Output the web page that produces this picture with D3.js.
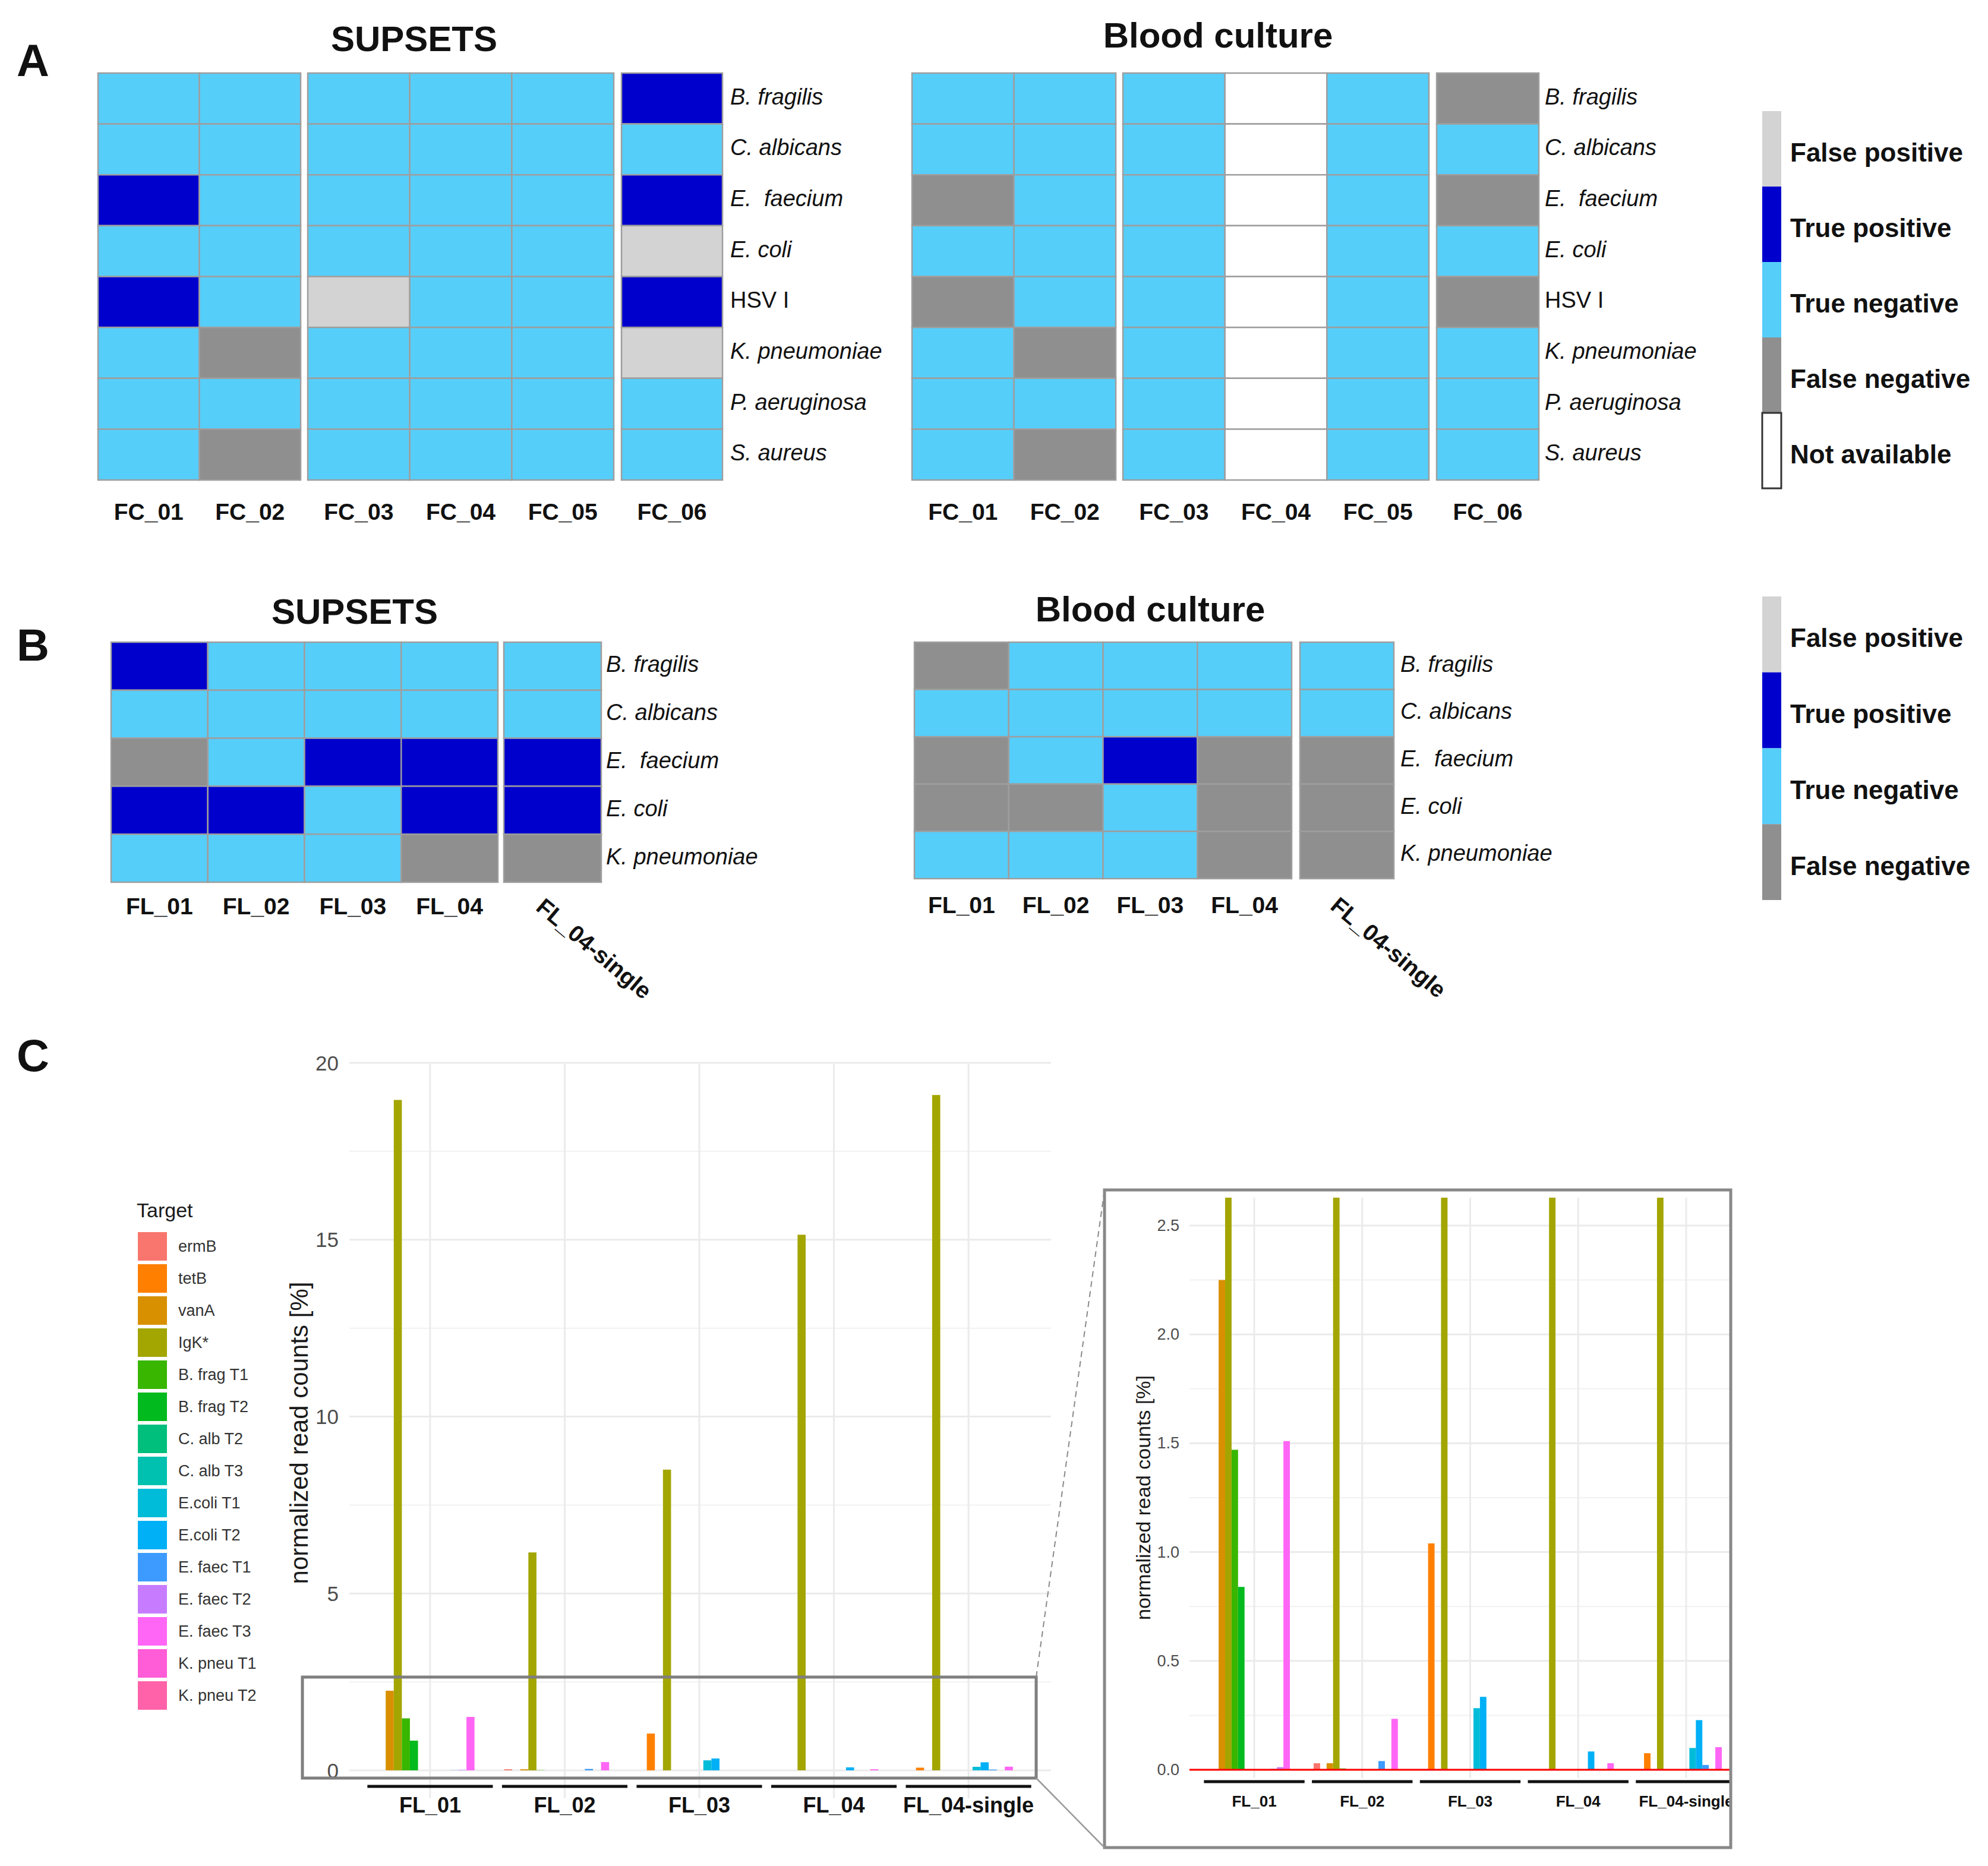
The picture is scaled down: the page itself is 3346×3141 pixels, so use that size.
<!DOCTYPE html>
<html>
<head>
<meta charset="utf-8">
<script src="https://cdn.jsdelivr.net/npm/d3@7"></script>
<style>
  html, body { margin: 0; padding: 0; background: #ffffff; }
  svg text { font-family: "Liberation Sans", Arial, sans-serif; }
</style>
</head>
<body>
<svg id="chart" width="3346" height="3141"></svg>
<script>
// ---------------- DATA ----------------
const statusNames = ["False positive", "True positive", "True negative", "False negative", "Not available"];
const statusColors = ["#D3D3D3", "#0000CD", "#56CEFA", "#8F8F8F", "#FFFFFF"];

const organismsA = ["B. fragilis", "C. albicans", "E.  faecium", "E. coli", "HSV I", "K. pneumoniae", "P. aeruginosa", "S. aureus"];
const samplesA = ["FC_01", "FC_02", "FC_03", "FC_04", "FC_05", "FC_06"];
const groupsA = [["FC_01", "FC_02"], ["FC_03", "FC_04", "FC_05"], ["FC_06"]];
// status codes: FP, TP, TN, FN, NA  (per sample, rows in organism order)
const supsetsA = {
  FC_01: ["TN","TN","TP","TN","TP","TN","TN","TN"],
  FC_02: ["TN","TN","TN","TN","TN","FN","TN","FN"],
  FC_03: ["TN","TN","TN","TN","FP","TN","TN","TN"],
  FC_04: ["TN","TN","TN","TN","TN","TN","TN","TN"],
  FC_05: ["TN","TN","TN","TN","TN","TN","TN","TN"],
  FC_06: ["TP","TN","TP","FP","TP","FP","TN","TN"]
};
const bloodA = {
  FC_01: ["TN","TN","FN","TN","FN","TN","TN","TN"],
  FC_02: ["TN","TN","TN","TN","TN","FN","TN","FN"],
  FC_03: ["TN","TN","TN","TN","TN","TN","TN","TN"],
  FC_04: ["NA","NA","NA","NA","NA","NA","NA","NA"],
  FC_05: ["TN","TN","TN","TN","TN","TN","TN","TN"],
  FC_06: ["FN","TN","FN","TN","FN","TN","TN","TN"]
};

const organismsB = ["B. fragilis", "C. albicans", "E.  faecium", "E. coli", "K. pneumoniae"];
const samplesB = ["FL_01", "FL_02", "FL_03", "FL_04", "FL_04-single"];
const groupsB = [["FL_01", "FL_02", "FL_03", "FL_04"], ["FL_04-single"]];
const supsetsB = {
  "FL_01": ["TP","TN","FN","TP","TN"],
  "FL_02": ["TN","TN","TN","TP","TN"],
  "FL_03": ["TN","TN","TP","TN","TN"],
  "FL_04": ["TN","TN","TP","TP","FN"],
  "FL_04-single": ["TN","TN","TP","TP","FN"]
};
const bloodB = {
  "FL_01": ["FN","TN","FN","FN","TN"],
  "FL_02": ["TN","TN","TN","FN","TN"],
  "FL_03": ["TN","TN","TP","TN","TN"],
  "FL_04": ["TN","TN","FN","FN","FN"],
  "FL_04-single": ["TN","TN","FN","FN","FN"]
};

const targets = ["ermB", "tetB", "vanA", "IgK*", "B. frag T1", "B. frag T2", "C. alb T2", "C. alb T3",
  "E.coli T1", "E.coli T2", "E. faec T1", "E. faec T2", "E. faec T3", "K. pneu T1", "K. pneu T2"];
const targetColors = ["#F8766D", "#FF8000", "#D89000", "#A3A500", "#39B600", "#00BA1E", "#00BF7D", "#00C0AF",
  "#00BCD8", "#00B0F6", "#3D9BFF", "#C77CFF", "#FF66F5", "#FF5CD7", "#FF62A8"];
const readSamples = ["FL_01", "FL_02", "FL_03", "FL_04", "FL_04-single"];
const readsFL01 = [0, 0, 2.25, 18.95, 1.47, 0.84, 0, 0, 0, 0, 0.004, 0.012, 1.51, 0, 0];
const readsFL02 = [0.03, 0, 0.03, 6.16, 0.006, 0, 0, 0, 0, 0, 0.04, 0, 0.234, 0, 0];
const readsFL03 = [0, 1.04, 0, 8.50, 0, 0, 0, 0, 0.283, 0.335, 0, 0, 0, 0, 0];
const readsFL04 = [0, 0, 0, 15.14, 0, 0, 0, 0, 0, 0.084, 0, 0, 0.03, 0, 0];
const readsFL04single = [0, 0.076, 0, 19.09, 0, 0, 0, 0, 0.10, 0.228, 0.022, 0, 0.104, 0, 0];
const mainTicks = [0, 5, 10, 15, 20];
const insetTicks = [0, 0.5, 1.0, 1.5, 2.0, 2.5];

// ---------------- HELPERS ----------------
const svg = d3.select("#chart");
svg.append("rect").attr("width", 3346).attr("height", 3141).attr("fill", "#fff");

const statusCode = ["FP", "TP", "TN", "FN", "NA"];
const colorScale = d3.scaleOrdinal().domain(statusCode).range(statusColors);

function heatmap(g, opts) {
  const { organisms, groups, data, groupRanges, yRange, labelX, colLabelY, rotated } = opts;
  const y = d3.scaleBand().domain(organisms).range(yRange);
  groups.forEach((grp, gi) => {
    const x = d3.scaleBand().domain(grp).range(groupRanges[gi]);
    grp.forEach(s => {
      const col = g.append("g");
      col.selectAll("rect").data(organisms.map((o, i) => ({ o, v: data[s][i] })))
        .enter().append("rect")
        .attr("x", d => x(s)).attr("y", d => y(d.o))
        .attr("width", x.bandwidth()).attr("height", y.bandwidth())
        .attr("fill", d => colorScale(d.v))
        .attr("stroke", "#9E9E9E").attr("stroke-width", 2.5);
      const cx = x(s) + x.bandwidth() / 2;
      if (rotated && s === rotated) {
        g.append("text").attr("transform", `translate(${cx - 12},${colLabelY - 30}) rotate(40)`)
          .attr("dominant-baseline", "hanging")
          .attr("font-size", 39).attr("font-weight", "bold").attr("fill", "#111").text(s);
      } else {
        g.append("text").attr("x", cx).attr("y", colLabelY).attr("text-anchor", "middle")
          .attr("font-size", 39).attr("font-weight", "bold").attr("fill", "#111").text(s);
      }
    });
  });
  organisms.forEach(o => {
    g.append("text").attr("x", labelX).attr("y", y(o) + y.bandwidth() / 2 - 3)
      .attr("dominant-baseline", "central")
      .attr("font-size", 38).attr("font-style", o === "HSV I" ? "normal" : "italic")
      .attr("fill", "#111").style("white-space", "pre").text(o);
  });
}

function statusLegend(g, n, x, top, bottom) {
  const y = d3.scaleBand().domain(statusNames.slice(0, n)).range([top, bottom]);
  statusNames.slice(0, n).forEach((name, i) => {
    g.append("rect").attr("x", x).attr("y", y(name)).attr("width", 32).attr("height", y.bandwidth())
      .attr("fill", statusColors[i])
      .attr("stroke", name === "Not available" ? "#333" : "none").attr("stroke-width", 3);
    g.append("text").attr("x", x + 47).attr("y", y(name) + y.bandwidth() / 2 + 6)
      .attr("dominant-baseline", "central").attr("font-size", 44).attr("font-weight", "bold")
      .attr("fill", "#111").text(name);
  });
}

function title(txt, x, y) {
  svg.append("text").attr("x", x).attr("y", y).attr("text-anchor", "middle")
    .attr("font-size", 60).attr("font-weight", "bold").attr("fill", "#111").text(txt);
}
function panelLetter(txt, x, y) {
  svg.append("text").attr("x", x).attr("y", y).attr("font-size", 76).attr("font-weight", "bold")
    .attr("fill", "#111").text(txt);
}

// ---------------- PANEL A ----------------
panelLetter("A", 28, 128);
title("SUPSETS", 697, 86);
title("Blood culture", 2050, 80);
heatmap(svg.append("g"), {
  organisms: organismsA, groups: groupsA, data: supsetsA,
  groupRanges: [[165, 506], [518, 1033], [1046, 1216]], yRange: [123, 808],
  labelX: 1229, colLabelY: 875
});
heatmap(svg.append("g"), {
  organisms: organismsA, groups: groupsA, data: bloodA,
  groupRanges: [[1535, 1878], [1890, 2405], [2418, 2590]], yRange: [123, 808],
  labelX: 2600, colLabelY: 875
});
statusLegend(svg.append("g"), 5, 2966, 187, 822);

// ---------------- PANEL B ----------------
panelLetter("B", 28, 1112);
title("SUPSETS", 597, 1050);
title("Blood culture", 1936, 1046);
heatmap(svg.append("g"), {
  organisms: organismsB, groups: groupsB, data: supsetsB,
  groupRanges: [[187, 838], [848, 1012]], yRange: [1081, 1485],
  labelX: 1020, colLabelY: 1539, rotated: "FL_04-single"
});
heatmap(svg.append("g"), {
  organisms: organismsB, groups: groupsB, data: bloodB,
  groupRanges: [[1539, 2174], [2188, 2346]], yRange: [1081, 1479],
  labelX: 2357, colLabelY: 1537, rotated: "FL_04-single"
});
statusLegend(svg.append("g"), 4, 2966, 1004, 1515);

// ---------------- PANEL C ----------------
panelLetter("C", 28, 1803);
const readsBySample = [readsFL01, readsFL02, readsFL03, readsFL04, readsFL04single];
const barData = [];
readSamples.forEach((s, si) => targets.forEach((t, ti) => barData.push({ s, t, v: readsBySample[si][ti], c: targetColors[ti] })));

function barPanel(g, cfg) {
  const x = d3.scaleBand().domain(readSamples).range(cfg.xRange).paddingInner(0).paddingOuter(0.1);
  const step = x.bandwidth();
  const sub = d3.scaleBand().domain(targets).range([-0.45 * step, 0.45 * step]);
  const y = d3.scaleLinear().domain(cfg.yDomain).range(cfg.yRange);
  const [px0, px1] = cfg.panelX, [py0, py1] = cfg.panelY;
  // grid
  const grid = g.append("g");
  cfg.minor.forEach(v => grid.append("line").attr("x1", px0).attr("x2", px1).attr("y1", y(v)).attr("y2", y(v))
    .attr("stroke", "#F2F2F2").attr("stroke-width", 2));
  cfg.ticks.forEach(v => grid.append("line").attr("x1", px0).attr("x2", px1).attr("y1", y(v)).attr("y2", y(v))
    .attr("stroke", "#EBEBEB").attr("stroke-width", 3));
  readSamples.forEach(s => grid.append("line").attr("x1", x(s) + step / 2).attr("x2", x(s) + step / 2)
    .attr("y1", py0).attr("y2", py1).attr("stroke", "#EBEBEB").attr("stroke-width", 3));
  // bars
  const clipId = cfg.id + "-clip";
  g.append("clipPath").attr("id", clipId).append("rect")
    .attr("x", px0).attr("y", py0).attr("width", px1 - px0).attr("height", py1 - py0);
  g.append("g").attr("clip-path", `url(#${clipId})`)
    .selectAll("rect").data(barData.filter(d => d.v > 0)).enter().append("rect")
    .attr("x", d => x(d.s) + step / 2 + sub(d.t)).attr("width", sub.bandwidth())
    .attr("y", d => y(d.v)).attr("height", d => y(0) - y(d.v) + cfg.barExtra)
    .attr("fill", d => d.c);
  if (cfg.redLine) {
    g.append("line").attr("x1", px0).attr("x2", px1).attr("y1", y(0)).attr("y2", y(0))
      .attr("stroke", "#FF0000").attr("stroke-width", 3);
  }
  // y ticks
  cfg.ticks.forEach(v => g.append("text").attr("x", cfg.tickX).attr("y", y(v)).attr("text-anchor", "end")
    .attr("dominant-baseline", "central").attr("font-size", cfg.tickSize).attr("fill", "#4D4D4D")
    .text(cfg.fmt(v)));
  // group underlines + labels
  readSamples.forEach(s => {
    const cx = x(s) + step / 2;
    g.append("line").attr("x1", cx - 0.466 * step).attr("x2", cx + 0.466 * step)
      .attr("y1", cfg.underlineY).attr("y2", cfg.underlineY).attr("stroke", "#111").attr("stroke-width", 5);
    g.append("text").attr("x", cx).attr("y", cfg.labelY).attr("text-anchor", "middle")
      .attr("font-size", cfg.labelSize).attr("font-weight", "bold").attr("fill", "#111").text(s);
  });
  // y title
  g.append("text").attr("transform", `translate(${cfg.titleX},${cfg.titleY}) rotate(-90)`)
    .attr("text-anchor", "middle").attr("font-size", cfg.titleSize).attr("fill", "#1a1a1a")
    .text("normalized read counts [%]");
}

barPanel(svg.append("g"), {
  id: "main", xRange: [588, 1766], yDomain: [0, 20], yRange: [2980, 1789],
  panelX: [588, 1769], panelY: [1789, 3027], ticks: mainTicks, minor: [2.5, 7.5, 12.5, 17.5],
  tickX: 570, tickSize: 35, fmt: d3.format("d"), underlineY: 3007, labelY: 3051, labelSize: 36,
  titleX: 518, titleY: 2412, titleSize: 42, redLine: false, barExtra: 0
});

// inset
const insetG = svg.append("g");
insetG.append("clipPath").attr("id", "inset-box").append("rect")
  .attr("x", 1862).attr("y", 2005).attr("width", 1049).attr("height", 1103);
const insetInner = insetG.append("g").attr("clip-path", "url(#inset-box)");
barPanel(insetInner, {
  id: "inset", xRange: [2002, 2947], yDomain: [0, 2.5], yRange: [2979, 2063],
  panelX: [2002, 2947], panelY: [2016, 2993], ticks: insetTicks,
  minor: [0.25, 0.75, 1.25, 1.75, 2.25], tickX: 1985, tickSize: 27, fmt: d3.format(".1f"),
  underlineY: 2999, labelY: 3041, labelSize: 26, titleX: 1936, titleY: 2521, titleSize: 34,
  redLine: true, barExtra: 0
});

// zoom box + inset frame + connectors
svg.append("rect").attr("x", 509).attr("y", 2823).attr("width", 1235).attr("height", 170)
  .attr("fill", "none").attr("stroke", "#7F7F7F").attr("stroke-width", 5);
svg.append("rect").attr("x", 1859).attr("y", 2003).attr("width", 1054).attr("height", 1107)
  .attr("fill", "none").attr("stroke", "#888888").attr("stroke-width", 5);
svg.append("line").attr("x1", 1744).attr("y1", 2823).attr("x2", 1859).attr("y2", 2003)
  .attr("stroke", "#8A8A8A").attr("stroke-width", 2).attr("stroke-dasharray", "10,7");
svg.append("line").attr("x1", 1744).attr("y1", 2993).attr("x2", 1859).attr("y2", 3110)
  .attr("stroke", "#9A9A9A").attr("stroke-width", 2.5);

// Target legend
const legG = svg.append("g");
legG.append("text").attr("x", 230).attr("y", 2049).attr("font-size", 34).attr("fill", "#1a1a1a").text("Target");
const ly = d3.scaleBand().domain(targets).range([2071, 2071 + 54 * targets.length]);
targets.forEach((t, i) => {
  legG.append("rect").attr("x", 232).attr("y", ly(t) + 3).attr("width", 49).attr("height", 48).attr("fill", targetColors[i]);
  legG.append("text").attr("x", 300).attr("y", ly(t) + 27).attr("dominant-baseline", "central")
    .attr("font-size", 27).attr("fill", "#333").text(t);
});
</script>
</body>
</html>
